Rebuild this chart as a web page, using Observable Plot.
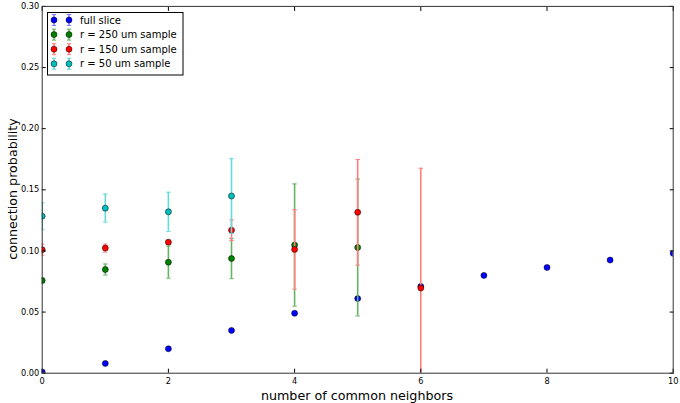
<!DOCTYPE html>
<html><head><meta charset="utf-8">
<script src="https://cdn.jsdelivr.net/npm/d3@7"></script>
<script src="https://cdn.jsdelivr.net/npm/@observablehq/plot@0.6"></script>
<style>
body{margin:0;background:#fff;font-family:"DejaVu Sans",sans-serif;}
#wrap{position:relative;width:680px;height:403px;overflow:hidden;}
.lab{position:absolute;font-size:12.7px;color:#000;white-space:nowrap;}
</style></head><body><div id="wrap"></div>
<script>
// ---- data ----
const xFull = [0,1,2,3,4,5,6,7,8,9,10];
const yFull = [0.001,0.008,0.020,0.035,0.049,0.061,0.071,0.080,0.0865,0.0925,0.098];
const eFull = [0.0008,0.0008,0.0008,0.0008,0.0008,0.0008,0.0008,0.0008,0.0008,0.0008,0.0008];

const x250 = [0,1,2,3,4,5];
const y250 = [0.0758,0.0848,0.0908,0.0938,0.1048,0.1028];
const e250 = [0.002,0.0045,0.0131,0.0165,0.050,0.056];

const x150 = [0,1,2,3,4,5,6];
const y150 = [0.101,0.1023,0.1072,0.117,0.1012,0.1316,0.0696];
const e150 = [0.0045,0.0033,0.0015,0.0085,0.0325,0.0432,0.098];

const x50 = [0,1,2,3];
const y50 = [0.1284,0.135,0.132,0.1449];
const e50 = [0.011,0.0115,0.016,0.0305];

const seriesNames = ["full slice","r = 250 um sample","r = 150 um sample","r = 50 um sample"];
const seriesColors = ["#0000ff","#008000","#ff0000","#00bfbf"];
const barColors = ["#7f7fff","#66b366","#ff7f7f","#66d9d9"];

const xTicks = [0,2,4,6,8,10];
const yTicks = [0,0.05,0.10,0.15,0.20,0.25,0.30];

const series = [
  {x:xFull,y:yFull,e:eFull},
  {x:x250,y:y250,e:e250},
  {x:x150,y:y150,e:e150},
  {x:x50,y:y50,e:e50}
].map((s,k)=>({name:seriesNames[k],color:seriesColors[k],bar:barColors[k],
  rows:s.x.map((x,i)=>({x,y:s.y[i],e:s.e[i]}))}));

const capHalf = 0.035;
const marks = [];
for (const s of series) {
  marks.push(Plot.ruleX(s.rows,{x:"x",y1:d=>d.y-d.e,y2:d=>d.y+d.e,stroke:s.bar,strokeWidth:1.6,clip:true}));
  marks.push(Plot.link(s.rows,{x1:d=>d.x-capHalf,x2:d=>d.x+capHalf,y1:d=>d.y+d.e,y2:d=>d.y+d.e,stroke:s.bar,strokeWidth:1,clip:true}));
  marks.push(Plot.link(s.rows,{x1:d=>d.x-capHalf,x2:d=>d.x+capHalf,y1:d=>d.y-d.e,y2:d=>d.y-d.e,stroke:s.bar,strokeWidth:1,clip:true}));
  marks.push(Plot.dot(s.rows,{x:"x",y:"y",r:3,fill:s.color,stroke:"#000",strokeWidth:0.5,clip:true}));
}

const fmtY = d3.format(".2f");
const plot = Plot.plot({
  width:680, height:403,
  marginLeft:41.7, marginRight:7.3, marginTop:5.9, marginBottom:30.3,
  style:{fontFamily:"DejaVu Sans", background:"#fff", color:"#000"},
  x:{domain:[0,10]},
  y:{domain:[0,0.30]},
  marks:[
    ...marks,
    Plot.axisX({ticks:xTicks, tickSize:0, tickPadding:4.5, tickFormat:d=>String(d), fontSize:8.2, label:null}),
    Plot.axisX({ticks:xTicks, anchor:"bottom", tickSize:-4, tickFormat:()=>"", label:null, stroke:"#000"}),
    Plot.axisX({ticks:xTicks, anchor:"top", tickSize:-4, tickFormat:()=>"", label:null, stroke:"#000"}),
    Plot.axisY({ticks:yTicks, tickSize:0, tickPadding:3, tickFormat:fmtY, fontSize:8.2, label:null}),
    Plot.axisY({ticks:yTicks, anchor:"left", tickSize:-4, tickFormat:()=>"", label:null}),
    Plot.axisY({ticks:yTicks, anchor:"right", tickSize:-4, tickFormat:()=>"", label:null}),
    Plot.frame({stroke:"#333", strokeWidth:1})
  ]
});
const wrap = document.getElementById("wrap");
wrap.appendChild(plot);
plot.style.position="absolute"; plot.style.left="0"; plot.style.top="0";

// axis labels
const xl = document.createElement("div");
xl.className="lab"; xl.textContent="number of common neighbors";
xl.style.left="357px"; xl.style.top="395px"; xl.style.transform="translate(-50%,-50%)";
wrap.appendChild(xl);
const yl = document.createElement("div");
yl.className="lab"; yl.textContent="connection probability";
yl.style.left="11.5px"; yl.style.top="189px"; yl.style.transform="translate(-50%,-50%) rotate(-90deg)";
wrap.appendChild(yl);

// legend
const lg = d3.select(wrap).append("svg")
  .attr("width",137).attr("height",64)
  .style("position","absolute").style("left","46.5px").style("top","11.5px");
lg.append("rect").attr("x",0.5).attr("y",0.5).attr("width",135.5).attr("height",62.5)
  .attr("fill","#fff").attr("stroke","#000").attr("stroke-width",1);
series.forEach((s,i)=>{
  const cy = 8 + i*14.6;
  const g = lg.append("g").attr("transform",`translate(0,${cy})`);
  [7,22].forEach(cx=>{
    g.append("line").attr("x1",cx).attr("x2",cx).attr("y1",-5.5).attr("y2",5.5).attr("stroke",s.bar).attr("stroke-width",1.6);
    g.append("line").attr("x1",cx-2.2).attr("x2",cx+2.2).attr("y1",-5.5).attr("y2",-5.5).attr("stroke",s.bar);
    g.append("line").attr("x1",cx-2.2).attr("x2",cx+2.2).attr("y1",5.5).attr("y2",5.5).attr("stroke",s.bar);
    g.append("circle").attr("cx",cx).attr("cy",0).attr("r",3).attr("fill",s.color).attr("stroke","#000").attr("stroke-width",0.5);
  });
  g.append("text").attr("x",33).attr("y",0).attr("dy","0.35em")
    .attr("font-family","DejaVu Sans").attr("font-size",10).text(s.name);
});
</script></body></html>
